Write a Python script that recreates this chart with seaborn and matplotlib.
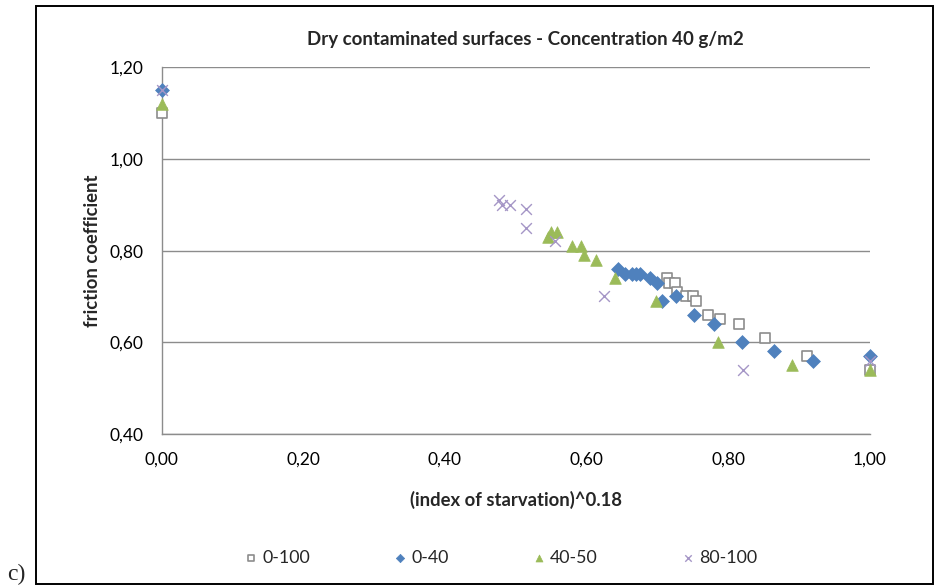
import matplotlib
matplotlib.use("Agg")
import matplotlib.pyplot as plt
from matplotlib.patches import Rectangle
from matplotlib.ticker import FuncFormatter
import seaborn as sns
import pandas as pd

# ---- data ----
sq_x = [0.0, 0.713, 0.717, 0.725, 0.728, 0.740, 0.750, 0.755, 0.772, 0.788, 0.815, 0.852, 0.911, 1.0]
sq_y = [1.10, 0.74, 0.73, 0.73, 0.71, 0.70, 0.70, 0.69, 0.66, 0.65, 0.64, 0.61, 0.57, 0.54]

di_x = [0.0, 0.645, 0.654, 0.664, 0.670, 0.675, 0.690, 0.700, 0.707, 0.726, 0.752, 0.780, 0.819, 0.864, 0.920, 1.0]
di_y = [1.15, 0.76, 0.75, 0.75, 0.75, 0.75, 0.74, 0.73, 0.69, 0.70, 0.66, 0.64, 0.60, 0.58, 0.56, 0.57]

tr_x = [0.0, 0.546, 0.550, 0.558, 0.580, 0.592, 0.596, 0.613, 0.640, 0.698, 0.786, 0.890, 1.0]
tr_y = [1.12, 0.83, 0.84, 0.84, 0.81, 0.81, 0.79, 0.78, 0.74, 0.69, 0.60, 0.55, 0.54]

xx_x = [0.0, 0.477, 0.481, 0.492, 0.514, 0.514, 0.556, 0.625, 0.821, 1.0]
xx_y = [1.15, 0.91, 0.90, 0.90, 0.89, 0.85, 0.82, 0.70, 0.54, 0.56]

series_names = ["0-100", "0-40", "40-50", "80-100"]
x_ticks = [0.0, 0.2, 0.4, 0.6, 0.8, 1.0]
y_ticks = [0.40, 0.60, 0.80, 1.00, 1.20]
title = "Dry contaminated surfaces - Concentration 40 g/m2"
xlabel = "(index of starvation)^0.18"
ylabel = "friction coefficient"

sns.set_style("white")
plt.rcParams["font.family"] = ["Lato", "DejaVu Sans"]

fig = plt.figure(figsize=(9.35, 5.88), dpi=100)
ax = fig.add_axes([161.5 / 935, 1 - 434 / 588, (870 - 161.5) / 935, (434 - 67.3) / 588])

styles = [
    dict(marker="s", s=48, facecolor="white", edgecolor="#8c8c8c", linewidth=1.2),
    dict(marker="D", s=50, color="#4F81BD", edgecolor="#4F81BD", linewidth=0.5),
    dict(marker="^", s=70, color="#9BBB59", edgecolor="#9BBB59", linewidth=0.5),
    dict(marker="x", s=60, color="#A596C6", linewidth=1.0),
]
data = [(sq_x, sq_y), (di_x, di_y), (tr_x, tr_y), (xx_x, xx_y)]
for name, (xs, ys), st in zip(series_names, data, styles):
    df = pd.DataFrame({"x": xs, "y": ys})
    sns.scatterplot(data=df, x="x", y="y", ax=ax, label=name, zorder=3, clip_on=False, **st)

ax.set_xlim(0, 1.0)
ax.set_ylim(0.40, 1.20)
ax.set_xticks(x_ticks)
ax.set_yticks(y_ticks)
fmt = FuncFormatter(lambda v, p: f"{v:.2f}".replace(".", ","))
ax.xaxis.set_major_formatter(fmt)
ax.yaxis.set_major_formatter(fmt)
ax.tick_params(axis="both", labelsize=12.5, colors="#8c8c8c", labelcolor="black",
               length=5, width=1, direction="out")
ax.tick_params(axis="x", pad=8)
ax.tick_params(axis="y", pad=8)
ax.grid(axis="y", color="#8c8c8c", linewidth=1)
ax.grid(axis="x", visible=False)
for side in ["top", "right"]:
    ax.spines[side].set_visible(False)
for side in ["left", "bottom"]:
    ax.spines[side].set_color("#8c8c8c")
    ax.spines[side].set_linewidth(1)
ax.set_axisbelow(True)

ax.set_xlabel("")
ax.set_ylabel("")
fig.text(516 / 935, 1 - 500 / 588, xlabel, ha="center", va="center", fontsize=13.3, fontweight="bold")
fig.text(92 / 935, 1 - 251 / 588, ylabel, ha="center", va="center", rotation=90, fontsize=13.3, fontweight="bold")
fig.text(525 / 935, 1 - 40 / 588, title, ha="center", va="center", fontsize=13.5, fontweight="bold")

ax.get_legend().remove()
handles, labels = ax.get_legend_handles_labels()
leg = fig.legend(handles, labels, loc="center", bbox_to_anchor=(500 / 935, 1 - 558 / 588), ncol=4,
                 frameon=False, fontsize=12.8, markerscale=0.6, handletextpad=0.2,
                 columnspacing=4.6, handlelength=0.9)

fig.patches.append(Rectangle((36 / 935, 1 - 584 / 588), (933 - 36) / 935, (584 - 6) / 588,
                             transform=fig.transFigure, fill=False, edgecolor="black",
                             linewidth=1.4, figure=fig))
fig.text(7 / 935, 1 - 574 / 588, "c)", fontsize=17, family="Liberation Serif", ha="left", va="center")

fig.savefig("out.png", dpi=100)
